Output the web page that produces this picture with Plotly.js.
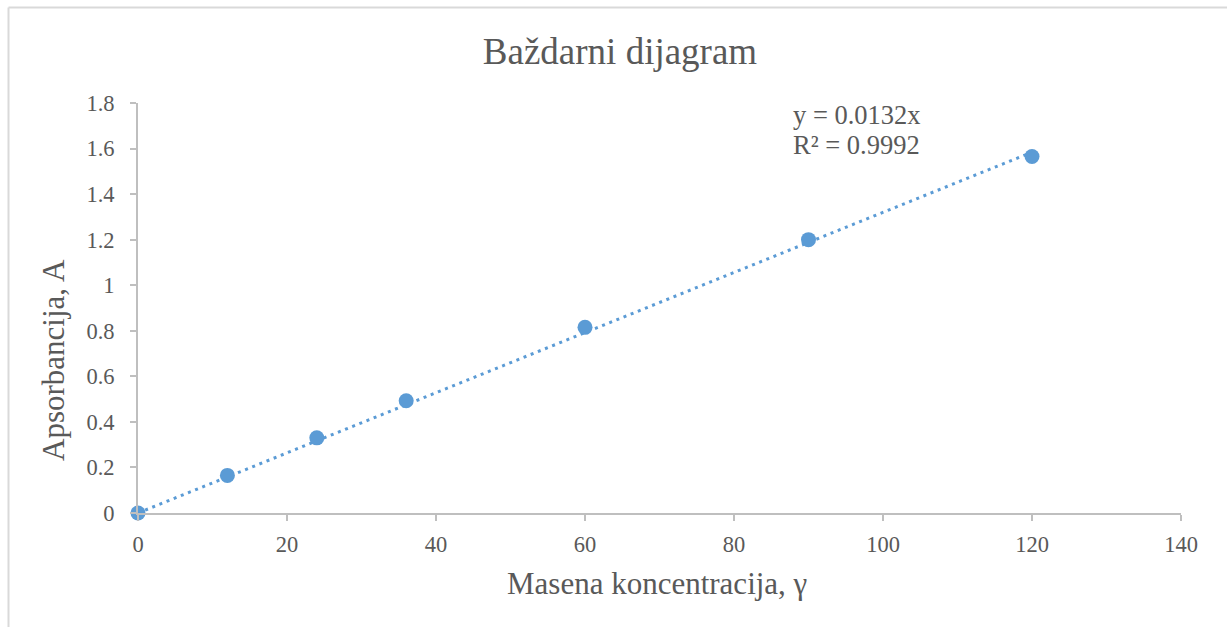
<!DOCTYPE html>
<html>
<head>
<meta charset="utf-8">
<script src="https://cdn.plot.ly/plotly-3.0.1.min.js"></script>
<style>html,body{margin:0;padding:0;background:#fff;}#chart{width:1227px;height:627px;}</style>
</head>
<body>
<div id="chart"></div>
<script>
// Data
const concentration = [0, 12, 24, 36, 60, 90, 120];
const absorbance = [0, 0.165, 0.33, 0.493, 0.815, 1.2, 1.565];
// Linear trendline (y = 0.0132x) endpoints
const trendX = [0, 120];
const trendY = [0, 1.584];
const xTicks = [0, 20, 40, 60, 80, 100, 120, 140];
const yTicks = [0, 0.2, 0.4, 0.6, 0.8, 1, 1.2, 1.4, 1.6, 1.8];
const yTickLabels = ['0', '0.2', '0.4', '0.6', '0.8', '1', '1.2', '1.4', '1.6', '1.8'];
const titleText = 'Baždarni dijagram';
const xTitle = 'Masena koncentracija, γ';
const yTitle = 'Apsorbancija, A';
const eqLine1 = 'y = 0.0132x';
const eqLine2 = 'R² = 0.9992';

const W = 1227, H = 627;
const mL = 138, mR = W - 1181, mT = 103, mB = H - 513;
const pw = W - mL - mR, ph = H - mT - mB;
const px2x = p => (p - mL) / pw;
const py2y = p => 1 - (p - mT) / ph;

const blue = '#5b9bd5';
const serif = 'Liberation Serif';
const txt = '#595959';

const traces = [
  {
    x: trendX, y: trendY, mode: 'lines', type: 'scatter',
    line: {color: blue, width: 3, dash: '3px,4.7px'},
    hoverinfo: 'skip', showlegend: false, cliponaxis: false
  },
  {
    x: concentration, y: absorbance, mode: 'markers', type: 'scatter',
    marker: {color: blue, size: 15, line: {width: 0}},
    showlegend: false, cliponaxis: false
  }
];

const layout = {
  width: W, height: H,
  margin: {l: mL, r: mR, t: mT, b: mB, pad: 0},
  paper_bgcolor: '#fff', plot_bgcolor: '#fff',
  showlegend: false,
  font: {family: serif, color: txt},
  title: {
    text: titleText, font: {family: serif, size: 37, color: txt},
    xref: 'container', x: 620 / W, xanchor: 'center',
    yref: 'container', y: 1 - 51 / H, yanchor: 'middle'
  },
  xaxis: {
    range: [0, 140], tickmode: 'array', tickvals: xTicks,
    showgrid: false, zeroline: false, showline: true,
    linecolor: '#bfbfbf', linewidth: 2,
    ticks: 'outside', ticklen: 6, tickwidth: 2, tickcolor: '#bfbfbf',
    tickfont: {family: serif, size: 22.5, color: txt},
    ticklabelstandoff: 4
  },
  yaxis: {
    range: [0, 1.8], tickmode: 'array', tickvals: yTicks, ticktext: yTickLabels,
    showgrid: false, zeroline: false, showline: true,
    linecolor: '#bfbfbf', linewidth: 2,
    ticks: 'outside', ticklen: 6, tickwidth: 2, tickcolor: '#bfbfbf',
    tickfont: {family: serif, size: 22.5, color: txt},
    ticklabelstandoff: 11
  },
  annotations: [
    {
      xref: 'paper', yref: 'paper', x: px2x(657), y: py2y(583),
      xanchor: 'center', yanchor: 'middle', showarrow: false,
      text: xTitle, font: {family: serif, size: 31, color: txt}
    },
    {
      xref: 'paper', yref: 'paper', x: px2x(53), y: py2y(360),
      xanchor: 'center', yanchor: 'middle', showarrow: false, textangle: -90,
      text: yTitle, font: {family: serif, size: 31, color: txt}
    },
    {
      xref: 'paper', yref: 'paper', x: px2x(791), y: py2y(115),
      xanchor: 'left', yanchor: 'middle', showarrow: false,
      text: eqLine1, font: {family: serif, size: 26.5, color: txt}
    },
    {
      xref: 'paper', yref: 'paper', x: px2x(791), y: py2y(145),
      xanchor: 'left', yanchor: 'middle', showarrow: false,
      text: eqLine2, font: {family: serif, size: 26.5, color: txt}
    }
  ],
  shapes: [
    {type: 'line', xref: 'paper', yref: 'paper', x0: px2x(8.5), x1: px2x(1240), y0: py2y(7.5), y1: py2y(7.5), line: {color: '#d9d9d9', width: 2}},
    {type: 'line', xref: 'paper', yref: 'paper', x0: px2x(8.5), x1: px2x(8.5), y0: py2y(7.5), y1: py2y(640), line: {color: '#d9d9d9', width: 2}}
  ]
};

Plotly.newPlot('chart', traces, layout, {displayModeBar: false, staticPlot: true});
</script>
</body>
</html>
